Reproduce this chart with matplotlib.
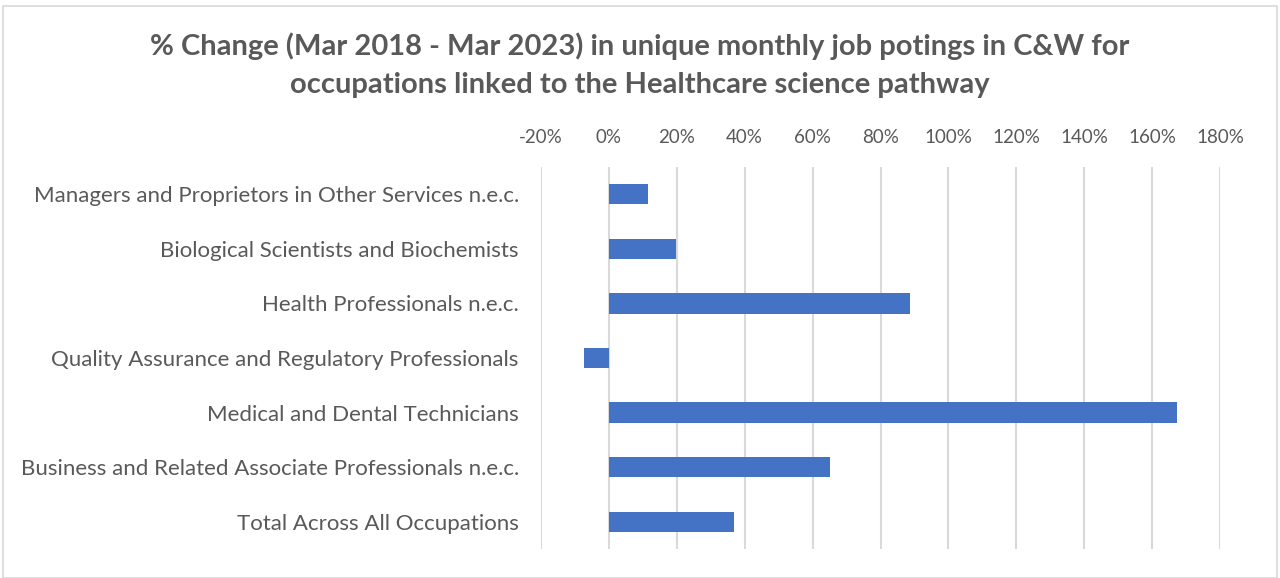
import matplotlib.pyplot as plt
from matplotlib.ticker import FuncFormatter
from matplotlib.patches import Rectangle

plt.rcParams['font.family'] = ['Lato', 'DejaVu Sans']

categories = [
    'Managers and Proprietors in Other Services n.e.c.',
    'Biological Scientists and Biochemists',
    'Health Professionals n.e.c.',
    'Quality Assurance and Regulatory Professionals',
    'Medical and Dental Technicians',
    'Business and Related Associate Professionals n.e.c.',
    'Total Across All Occupations',
]
pct_change = [11.5, 19.7, 88.8, -7.4, 167.3, 65.0, 36.8]
x_ticks = list(range(-20, 181, 20))

title = ('% Change (Mar 2018 - Mar 2023) in unique monthly job potings in C&W for\n'
         'occupations linked to the Healthcare science pathway')

text_col = '#595959'
grid_col = '#D9D9D9'

fig = plt.figure(figsize=(12.8, 5.78), dpi=100)
ax = fig.add_axes([541 / 1280, 1 - 549 / 578, (1220 - 541) / 1280, (549 - 167) / 578])

# chart border
fig.patches.append(Rectangle((3 / 1280, 0), 1 - 6 / 1280, 1 - 6 / 578,
                             transform=fig.transFigure, fill=False,
                             edgecolor=grid_col, linewidth=1.2))

y = list(range(len(categories)))
ax.barh(y, pct_change, height=0.37, color='#4472C4', zorder=3)

ax.set_xlim(-20, 180)
ax.set_ylim(len(categories) - 0.5, -0.5)
ax.set_xticks(x_ticks)
ax.xaxis.set_major_formatter(FuncFormatter(lambda v, p: f'{v:.0f}%'))
ax.xaxis.tick_top()
ax.set_yticks(y)
ax.set_yticklabels(categories)

ax.grid(axis='x', color=grid_col, linewidth=1.5, zorder=0)
for s in ax.spines.values():
    s.set_visible(False)
ax.tick_params(axis='both', length=0, colors=text_col)
ax.tick_params(axis='x', pad=15, labelsize=13.5)
ax.tick_params(axis='y', pad=16, labelsize=16)

fig.text(0.5, 1 - 65 / 578, title, ha='center', va='center', fontsize=21,
         fontweight='bold', color=text_col, linespacing=1.55)

fig.savefig('out.png', dpi=100)
